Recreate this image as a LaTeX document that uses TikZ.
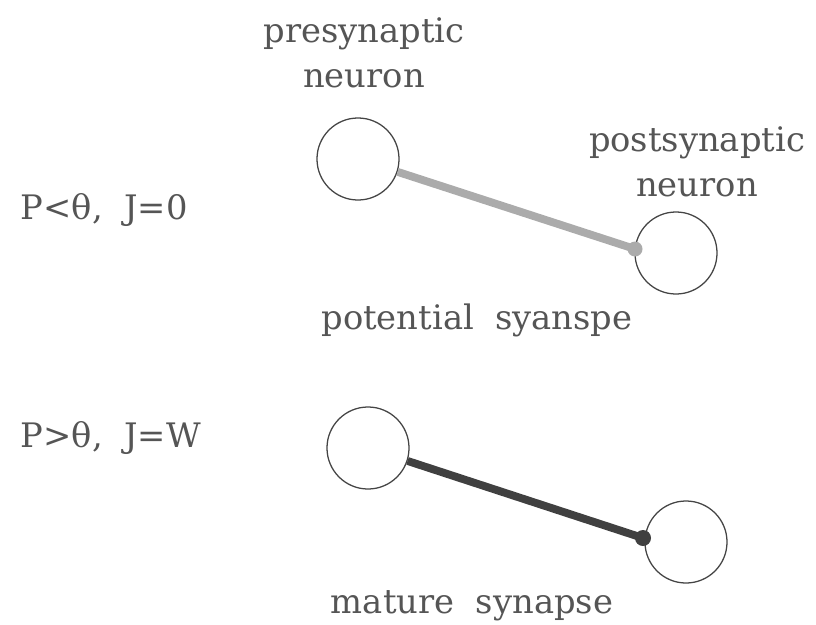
\documentclass[tikz,border=0pt]{standalone}
\usepackage{fontspec}
\setmainfont{DejaVu Serif}
\usepackage{tikz}
\definecolor{sntext}{HTML}{555555}
\definecolor{snring}{HTML}{444444}
\definecolor{snweak}{HTML}{ABABAB}
\definecolor{snstrong}{HTML}{404040}

\begin{document}
\begin{tikzpicture}[x=0.025cm,y=-0.025cm,
  neuron/.style={circle,draw=snring,line width=0.9pt,minimum size=2.05cm,inner sep=0pt},
  lbl/.style={text=sntext,font=\fontsize{24}{32}\selectfont,align=center}]
  \useasboundingbox (0,0) rectangle (816,625);
  % potential synapse
  \node[neuron] (pre1) at (358,159) {};
  \node[neuron] (post1) at (676,253) {};
  \coordinate (syn1) at (635,249);
  \draw[snweak,line width=5.6pt] (pre1) -- (syn1);
  \fill[snweak] (syn1) circle (7.5);
  \node[lbl] (lpre) at (364,53) {presynaptic\\neuron};
  \node[lbl] (lpost) at (697,162) {postsynaptic\\neuron};
  \node[lbl] (lpot) at (477,320) {potential~ syanspe};
  \node[lbl,anchor=west] (c1) at (16,210) {P<θ,~ J=0};
  % mature synapse
  \node[neuron] (pre2) at (368,448) {};
  \node[neuron] (post2) at (686,542) {};
  \coordinate (syn2) at (643,538);
  \draw[snstrong,line width=5.6pt] (pre2) -- (syn2);
  \fill[snstrong] (syn2) circle (8);
  \node[lbl] (lmat) at (472,606) {mature~ synapse};
  \node[lbl,anchor=west] (c2) at (16,438) {P>θ,~ J=W};
\end{tikzpicture}
\end{document}
